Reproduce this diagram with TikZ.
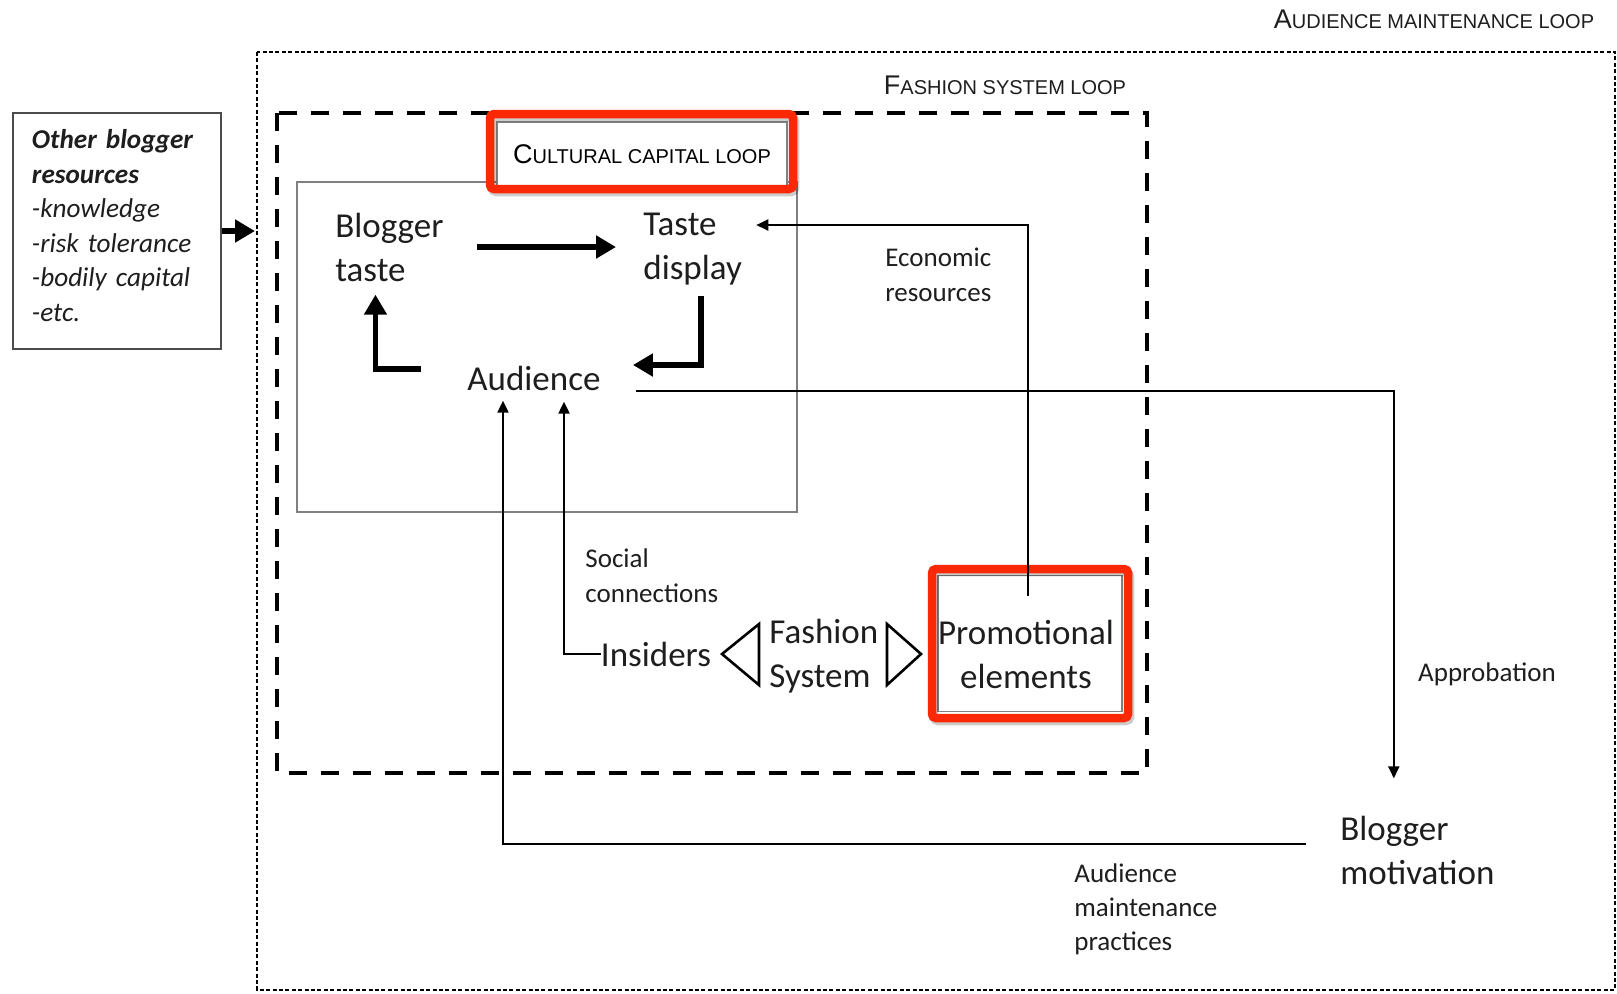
\documentclass[tikz,border=0pt]{standalone}
\usepackage{fontspec}
\setmainfont{Carlito}
\newfontfamily\loopfont{Liberation Sans}
\usetikzlibrary{arrows.meta,positioning}
\definecolor{framered}{RGB}{250,40,5}
\definecolor{ink}{RGB}{30,30,30}
\newcommand{\loopname}[2]{{\loopfont\fontsize{13.5}{16}\selectfont #1\fontsize{10}{12}\selectfont #2}}

\begin{document}
\begin{tikzpicture}[x=0.5pt,y=-0.5pt,>=latex,
    txt/.style={font=\fontsize{17.5}{22}\selectfont, text=ink, align=left, inner sep=0pt},
    lbl/.style={font=\fontsize{13.5}{17.5}\selectfont, text=ink, align=left, inner sep=0pt},
    looplbl/.style={text=ink, inner sep=0pt},
    fatarrow/.style={line width=2.8pt, -{Triangle[length=10pt,width=11pt]}},
    thinarrow/.style={line width=1.1pt, -{Triangle[length=6pt,width=5.5pt]}},
    redframe/.style={draw=framered, line width=4.25pt, rounded corners=2pt,
        preaction={draw=black, opacity=0.2, transform canvas={shift={(1pt,-1.5pt)}}}},
    ccbox/.style={draw=gray, line width=0.8pt},
    audloop/.style={dash pattern=on 2pt off 1.2pt, line width=1.2pt},
    fashionloop/.style={dash pattern=on 9pt off 7pt, line width=2pt}]

\fill[white] (0,0) rectangle (1617,993);
\useasboundingbox (0,0) rectangle (1617,993);

        % draw the three loops
        \draw[audloop] (257,52) rectangle (1615,990);
        \draw[fashionloop] (277,113) rectangle (1147,773);
        \draw[ccbox] (297,182) rectangle (797,512);
        \coordinate (amlW) at (257,232);

        \node[looplbl] (amltitle) at (1434,19) {\loopname{A}{UDIENCE MAINTENANCE LOOP}};
        \node[looplbl] (fsltitle) at (1005,85) {\loopname{F}{ASHION SYSTEM LOOP}};
        \node[ccbox, fill=white, minimum width=145pt, minimum height=32pt] (ccl) at (642,154)
            {\loopname{C}{ULTURAL CAPITAL LOOP}};
        \node[redframe, minimum width=151.5pt, minimum height=37.5pt] (cclframe) at (641.5,151.5) {};

        % resources outside the loops
        \node[draw=gray!60!black, line width=1pt, anchor=north west, text width=85pt,
              inner xsep=9.5pt, minimum height=118pt, align=left, text=ink,
              font=\fontsize{13.6}{17.25}\selectfont\itshape] (others) at (12,112)
            {\textbf{Other blogger}\\\textbf{resources}\\-knowledge\\-risk tolerance\\-bodily capital\\-etc.\rule[-5.5pt]{0pt}{5.5pt}};

        % the main elements
        \node[txt, anchor=west] (taste) at (335,247) {Blogger\\taste};
        \node[txt, anchor=west] (display) at (643,249) {Taste\\display};
        \node[txt] (aud) at (534,378) {Audience};
        \node[txt] (insiders) at (656,654) {Insiders};
        \node[txt, anchor=west] (fashion) at (769,656) {Fashion\\System};
        \node[ccbox, fill=white, minimum width=92pt, minimum height=68pt] (promobox) at (1030,643.5) {};
        \node[txt, align=center] (promo) at (1026,654) {Promotional\\elements};
        \node[redframe, minimum width=98pt, minimum height=74.5pt] (promoframe) at (1030,643.5) {};
        \node[txt, anchor=west] (motiv) at (1340,850) {Blogger\\motivation};

        % the two open triangles
        \draw[line width=1.3pt, line join=miter] (759,624) -- (722,654) -- (759,685) -- cycle;
        \draw[line width=1.3pt, line join=miter] (887,624) -- (921,654) -- (887,685) -- cycle;

        % cultural capital loop
        \draw[fatarrow, shorten <=16.5pt, shorten >=13.5pt] (taste.east) -- (taste.east -| display.west);
        \draw[fatarrow, shorten <=5.5pt, shorten >=16pt] ([xshift=4.25pt]display.south) |- ([yshift=6.5pt]aud.east);
        \draw[fatarrow, shorten <=23pt, shorten >=6.5pt] ([yshift=4.5pt]aud.west) -| ([xshift=-7pt]taste.south);
        \draw[fatarrow, shorten >=1pt] (others.east) -- (others.east -| amlW);

        % the other connections
        \draw[thinarrow, shorten >=7pt] ([xshift=1pt,yshift=11.5pt]promo.north) |- ([yshift=12pt]display.east);
        \draw[thinarrow, shorten <=17.75pt, shorten >=18.5pt] ([yshift=-6.5pt]aud.east) -| ([xshift=-11.8pt]motiv.north);
        \draw[thinarrow, shorten <=17pt, shorten >=5pt] ([yshift=3pt]motiv.west) -| ([xshift=-15.5pt]aud.south);
        \draw[thinarrow, shorten >=5.5pt] (insiders.west) -| ([xshift=15pt]aud.south);

        % labels on the connections
        \node[lbl, anchor=west] (econ) at (885,275) {Economic\\resources};
        \node[lbl, anchor=west] (social) at (585,576) {Social\\connections};
        \node[lbl] (approb) at (1487,674) {Approbation};
        \node[lbl, anchor=west, font=\fontsize{13.5}{17}\selectfont] (practices) at (1074,909)
            {Audience\\maintenance\\practices};
\end{tikzpicture}
\end{document}
